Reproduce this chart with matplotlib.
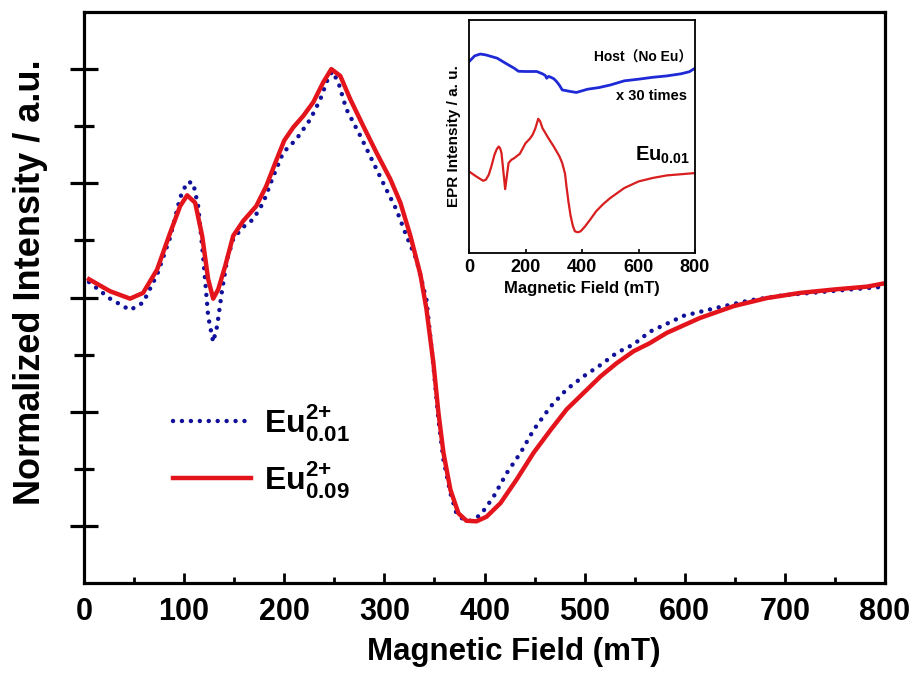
import matplotlib
matplotlib.use('Agg')
import matplotlib.pyplot as plt

main_font = 'Liberation Sans'
plt.rcParams['font.family'] = [main_font, 'DejaVu Sans']
plt.rcParams['font.weight'] = 'bold'
plt.rcParams['mathtext.fontset'] = 'custom'
plt.rcParams['mathtext.bf'] = main_font + ':bold'
plt.rcParams['mathtext.rm'] = main_font + ':bold'

# main spectra (field in mT, normalized intensity)
field_009 = [5, 26, 46, 59, 73, 86, 96, 103, 111, 118, 124, 129, 134, 141, 149, 159, 172, 182, 192, 200,
             209, 219, 229, 239, 247, 256, 266, 279, 292, 306, 316, 326, 336, 342, 349, 354, 359, 366, 374, 382,
             392, 402, 416, 432, 449, 466, 482, 499, 516, 532, 549, 565, 582, 615, 649, 682, 715, 749, 782, 800]
eu_009 = [5.32, 5.11, 4.98, 5.08, 5.49, 6.13, 6.60, 6.79, 6.66, 6.08, 5.32, 4.98, 5.14, 5.55, 6.08, 6.34, 6.60, 6.95, 7.40, 7.75,
          7.98, 8.18, 8.42, 8.77, 9.00, 8.88, 8.47, 8.00, 7.54, 7.07, 6.66, 6.08, 5.40, 4.80, 3.85, 2.98, 2.28, 1.63, 1.22, 1.09,
          1.08, 1.16, 1.40, 1.81, 2.28, 2.68, 3.04, 3.33, 3.62, 3.85, 4.06, 4.20, 4.38, 4.64, 4.85, 4.99, 5.08, 5.14, 5.19, 5.25]

field_001 = [5, 26, 46, 59, 73, 86, 96, 103, 109, 114, 119, 124, 129, 133, 138, 143, 149, 158, 169, 179,
             189, 199, 212, 226, 236, 244, 248, 254, 262, 276, 289, 302, 312, 322, 332, 342, 349, 354, 359, 366,
             372, 379, 386, 396, 409, 422, 436, 449, 466, 482, 499, 516, 532, 549, 565, 599, 632, 665, 699, 732,
             765, 800]
eu_001 = [5.27, 4.98, 4.78, 4.91, 5.40, 6.05, 6.75, 7.02, 7.01, 6.60, 5.72, 4.67, 4.22, 4.50, 5.14, 5.67, 6.02, 6.22, 6.37, 6.66,
          7.12, 7.54, 7.77, 8.12, 8.47, 8.85, 8.96, 8.77, 8.30, 7.83, 7.36, 6.89, 6.54, 6.08, 5.67, 4.96, 3.80, 2.86, 2.16, 1.57,
          1.22, 1.11, 1.09, 1.19, 1.51, 1.92, 2.28, 2.68, 3.09, 3.39, 3.62, 3.82, 4.03, 4.18, 4.40, 4.68, 4.82, 4.95, 5.04, 5.09,
          5.14, 5.19]

# inset spectra
host_field = [0, 20, 40, 60, 80, 100, 130, 160, 175, 200, 240, 260, 270, 275, 282, 290, 300, 310, 320, 330,
              360, 380, 420, 460, 500, 550, 600, 650, 700, 750, 780, 800]
host_int = [8.21, 8.46, 8.54, 8.50, 8.43, 8.36, 8.14, 7.93, 7.80, 7.79, 7.79, 7.69, 7.62, 7.50, 7.58, 7.54, 7.48, 7.36, 7.20, 7.00,
            6.93, 6.89, 7.03, 7.10, 7.21, 7.39, 7.46, 7.54, 7.60, 7.69, 7.78, 7.93]

inset_field = [0, 25, 50, 60, 70, 80, 90, 98, 105, 110, 115, 120, 128, 134, 140, 150, 160, 180, 200, 215,
               225, 235, 245, 252, 260, 280, 300, 320, 330, 340, 345, 352, 360, 368, 375, 385, 395, 410, 430, 450,
               475, 500, 550, 600, 650, 700, 800]
inset_int = [3.50, 3.29, 3.10, 3.15, 3.36, 3.75, 4.21, 4.45, 4.57, 4.50, 4.29, 3.70, 2.74, 3.30, 3.86, 4.00, 4.07, 4.26, 4.71, 4.90,
             5.07, 5.35, 5.76, 5.65, 5.36, 4.95, 4.57, 4.15, 3.86, 3.40, 2.86, 2.20, 1.57, 1.15, 0.93, 0.89, 0.93, 1.13, 1.45, 1.79,
             2.10, 2.36, 2.79, 3.07, 3.22, 3.33, 3.43]

red = '#e3141b'
blue = '#10109a'

fig = plt.figure(figsize=(9.18, 6.83), dpi=100)
ax = fig.add_axes([84 / 918, 100 / 683, 801 / 918, 571 / 683])

ax.plot(field_001, eu_001, color=blue, lw=3.2, dashes=(0.01, 2.0), dash_capstyle='round',
        label=r'$\mathbf{Eu}_{\mathbf{0.01}}^{\mathbf{2}{+}}$')
ax.plot(field_009, eu_009, color=red, lw=3.2, solid_joinstyle='round',
        label=r'$\mathbf{Eu}_{\mathbf{0.09}}^{\mathbf{2}{+}}$')

ax.set_xlim(0, 800)
ax.set_ylim(0, 10)
ax.set_xticks(range(0, 801, 100))
ax.set_xticks(range(50, 800, 100), minor=True)
ax.set_yticks([1, 3, 5, 7, 9])
ax.set_yticks([2, 4, 6, 8], minor=True)
ax.set_yticklabels([])
for s in ax.spines.values():
    s.set_linewidth(2.3)
ax.tick_params(axis='x', which='major', direction='in', length=7, width=2, labelsize=22, pad=10)
ax.tick_params(axis='x', which='minor', direction='in', length=4.5, width=2)
ax.tick_params(axis='y', which='major', direction='inout', length=20, width=2.3)
ax.tick_params(axis='y', which='minor', direction='inout', length=14, width=2.3)

ax.set_xlabel('Magnetic Field (mT)', fontsize=22.5, fontweight='bold')
ax.xaxis.set_label_coords(0.537, -0.095)
ax.set_ylabel('Normalized Intensity / a.u.', fontsize=26, fontweight='bold')
ax.yaxis.set_label_coords(-0.045, 0.527)

ax.legend(loc='upper left', bbox_to_anchor=(0.075, 0.367), frameon=False, fontsize=23,
          handlelength=2.45, handletextpad=0.4, labelspacing=0.5)

# inset
axi = fig.add_axes([469 / 918, 430 / 683, 226 / 918, 233 / 683])
axi.plot(host_field, host_int, color='#1f2ad6', lw=2.0)
axi.plot(inset_field, inset_int, color='#d81e1e', lw=1.6, solid_joinstyle='round')
axi.set_xlim(0, 800)
axi.set_ylim(0, 10)
axi.set_xticks([0, 200, 400, 600, 800])
axi.set_yticks([])
for s in axi.spines.values():
    s.set_linewidth(1.3)
axi.tick_params(axis='x', direction='in', length=3, width=1.2, labelsize=13, pad=4)
axi.set_xlabel('Magnetic Field (mT)', fontsize=12, fontweight='bold')
axi.set_ylabel('EPR Intensity / a. u.', fontsize=11, fontweight='bold', labelpad=6)
axi.text(0.99, 0.84, 'Host（No Eu）', transform=axi.transAxes, ha='right', va='center',
         fontsize=10, fontweight='bold', family=['Liberation Sans', 'Noto Sans CJK SC'])
axi.text(0.965, 0.675, 'x 30 times', transform=axi.transAxes, ha='right', va='center',
         fontsize=10.5, fontweight='bold')
axi.text(0.735, 0.42, r'Eu$_{\mathregular{0.01}}$', transform=axi.transAxes, ha='left', va='center',
         fontsize=14.5, fontweight='bold')

fig.savefig('out.png', dpi=100)
